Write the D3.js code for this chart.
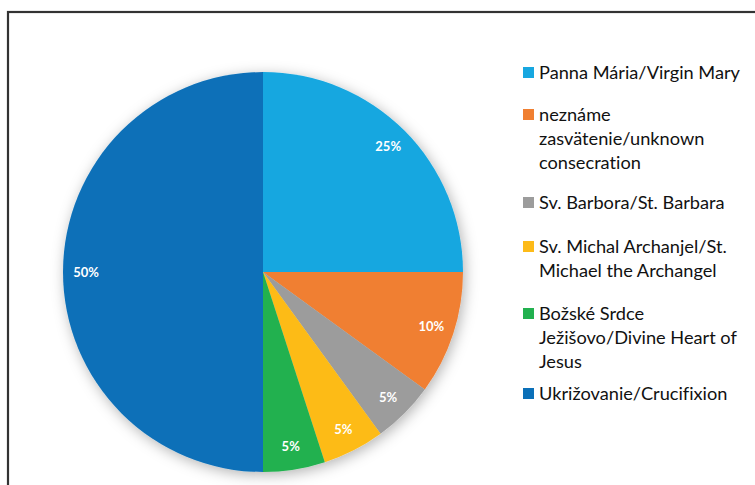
<!DOCTYPE html>
<html>
<head>
<meta charset="utf-8">
<script src="https://cdn.jsdelivr.net/npm/d3@7"></script>
<style>
  html, body { margin: 0; padding: 0; background: #fff; }
  svg { display: block; }
  .legend text { font-family: Lato, "Open Sans", sans-serif; fill: #111; font-variant-ligatures: none; }
  .lbl { font-family: Lato, "Open Sans", sans-serif; font-weight: bold; fill: #fff; }
</style>
</head>
<body>
<div id="chart"></div>
<script>
// slices, clockwise from 12 o'clock
const categories = [
    "Panna Mária/Virgin Mary",
    "neznáme zasvätenie/unknown consecration",
    "Sv. Barbora/St. Barbara",
    "Sv. Michal Archanjel/St. Michael the Archangel",
    "Božské Srdce Ježišovo/Divine Heart of Jesus",
    "Ukrižovanie/Crucifixion"
];
const shares = [25, 10, 5, 5, 5, 50];
const colors = ["#17a7e0", "#f07f31", "#9c9c9c", "#fdbb19", "#22b14f", "#0b70b8"];
// legend text as it wraps in the picture
const legendLines = [
    ["Panna Mária/Virgin Mary"],
    ["neznáme", "zasvätenie/unknown", "consecration"],
    ["Sv. Barbora/St. Barbara"],
    ["Sv. Michal Archanjel/St.", "Michael the Archangel"],
    ["Božské Srdce", "Ježišovo/Divine Heart of", "Jesus"],
    ["Ukrižovanie/Crucifixion"]
];

function drawChart() {
    const width = 755, height = 485;
    const cx = 263, cy = 272, radius = 200;

    const svg = d3.select("#chart")
        .append("svg")
        .attr("width", width)
        .attr("height", height);

    // soft shadow under the pie
    const defs = svg.append("defs");
    const f = defs.append("filter").attr("id", "shadow")
        .attr("x", "-20%").attr("y", "-20%").attr("width", "140%").attr("height", "140%");
    f.append("feDropShadow")
        .attr("dx", 2).attr("dy", 3)
        .attr("stdDeviation", 7)
        .attr("flood-color", "#000")
        .attr("flood-opacity", 0.3);

    // frame
    svg.append("rect")
        .attr("x", 8).attr("y", 12)
        .attr("width", width + 20).attr("height", height + 20)
        .attr("fill", "none")
        .attr("stroke", "#333")
        .attr("stroke-width", 2.2);

    const pie = d3.pie().sort(null).value(d => d);
    const arcs = pie(shares);
    const arc = d3.arc().innerRadius(0).outerRadius(radius);
    const labelArc = d3.arc().innerRadius(radius * 0.885).outerRadius(radius * 0.885);

    const g = svg.append("g").attr("transform", `translate(${cx},${cy})`);

    g.append("g")
        .attr("filter", "url(#shadow)")
        .selectAll("path")
        .data(arcs)
        .join("path")
        .attr("d", arc)
        .attr("fill", (d, i) => colors[i]);

    g.selectAll("text.lbl")
        .data(arcs)
        .join("text")
        .attr("class", "lbl")
        .attr("transform", d => `translate(${labelArc.centroid(d)})`)
        .attr("text-anchor", "middle")
        .attr("dy", "0.35em")
        .style("font-size", "13px")
        .text(d => d.data + "%");

    // legend
    const legend = svg.append("g").attr("class", "legend");
    const firstBaseline = [79, 121, 209, 253, 320, 400];
    const lineStep = 24;

    legendLines.forEach((lines, i) => {
        const item = legend.append("g");
        item.append("rect")
            .attr("x", 523).attr("y", firstBaseline[i] - 12)
            .attr("width", 11).attr("height", 11)
            .attr("fill", colors[i]);
        lines.forEach((t, j) => {
            item.append("text")
                .attr("x", 539)
                .attr("y", firstBaseline[i] + j * lineStep)
                .style("font-size", "18.2px")
                .text(t);
        });
    });
}

document.addEventListener("DOMContentLoaded", drawChart);
</script>
</body>
</html>
